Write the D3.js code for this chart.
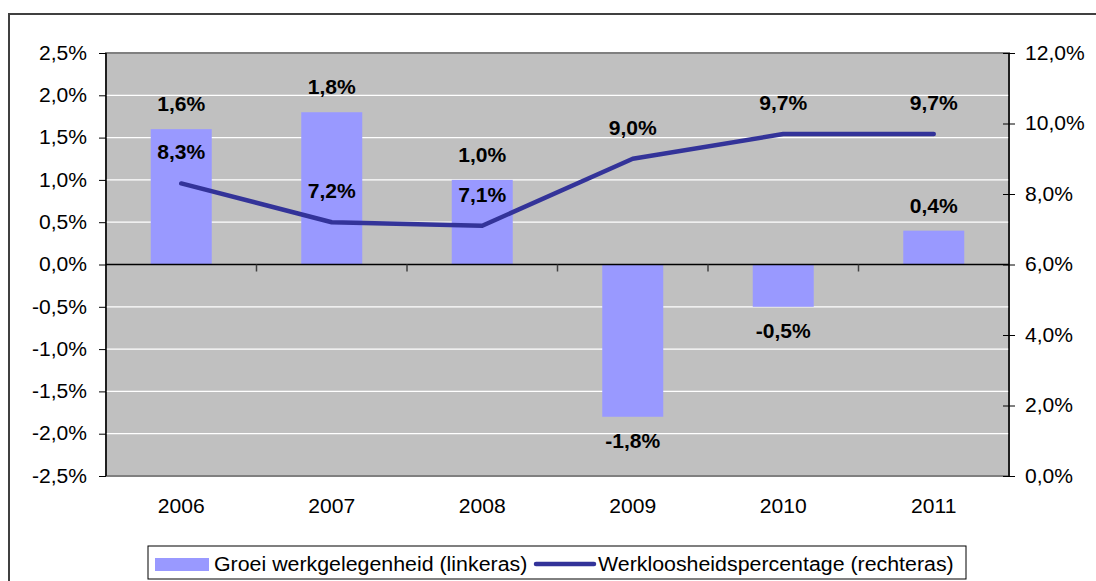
<!DOCTYPE html>
<html><head><meta charset="utf-8">
<script src="https://cdn.jsdelivr.net/npm/d3@7"></script>
<style>body{margin:0;background:#fff;}svg{display:block;font-family:"Liberation Sans",Arial,sans-serif;}</style>
</head><body>
<svg id="c" width="1096" height="581"></svg>
<script>
const years = ["2006","2007","2008","2009","2010","2011"];
const growth = [1.6, 1.8, 1.0, -1.8, -0.5, 0.4];
const unemployment = [8.3, 7.2, 7.1, 9.0, 9.7, 9.7];
const leftTicks = [-2.5,-2.0,-1.5,-1.0,-0.5,0,0.5,1.0,1.5,2.0,2.5];
const rightTicks = [0,2,4,6,8,10,12];
const seriesNames = ["Groei werkgelegenheid (linkeras)","Werkloosheidspercentage (rechteras)"];

const svg = d3.select("#c");
const L = 106, R = 1009, T = 53, B = 476;
const FS = 19.5;
const FF = "'Liberation Sans',Arial,sans-serif";
const fmtL = d => d3.format(".1f")(d).replace(".", ",").replace("\u2212","-") + "%";

svg.append("rect").attr("x",9).attr("y",14).attr("width",1100).attr("height",600)
  .attr("fill","#fff").attr("stroke","#404040").attr("stroke-width",2);

const xb = d3.scaleBand().domain(years).range([L,R]);
const yL = d3.scaleLinear().domain([-2.5,2.5]).range([B,T]);
const yR = d3.scaleLinear().domain([0,12]).range([B,T]);

svg.append("rect").attr("x",L).attr("y",T).attr("width",R-L).attr("height",B-T)
  .attr("fill","#C0C0C0").attr("stroke","#808080").attr("stroke-width",2);

svg.append("g").selectAll("line").data(leftTicks.filter(d=>d!==2.5 && d!==-2.5 && d!==0)).join("line")
  .attr("x1",L).attr("x2",R).attr("y1",d=>yL(d)).attr("y2",d=>yL(d))
  .attr("stroke","#fff").attr("stroke-width",1.2);

// bars
const bw = 61;
svg.append("g").selectAll("rect").data(growth).join("rect")
  .attr("x",(d,i)=>xb(years[i])+xb.bandwidth()/2-bw/2)
  .attr("width",bw)
  .attr("y",d=>Math.min(yL(d),yL(0)))
  .attr("height",d=>Math.abs(yL(d)-yL(0)))
  .attr("fill","#9999FF");

// left axis
const gl = svg.append("g").attr("transform",`translate(${L},0)`)
  .call(d3.axisLeft(yL).tickValues(leftTicks).tickFormat(fmtL).tickSize(7).tickPadding(12));
gl.select(".domain").attr("stroke","#000").attr("stroke-width",1.5).attr("d",`M0,${T}V${B}`);
gl.selectAll(".tick line").attr("stroke","#000");
gl.selectAll("text").attr("font-size",FS).attr("fill","#000").attr("font-family",FF);

// right axis
const gr = svg.append("g").attr("transform",`translate(${R},0)`)
  .call(d3.axisRight(yR).tickValues(rightTicks).tickFormat(fmtL).tickSize(6).tickPadding(10));
gr.select(".domain").attr("stroke","#000").attr("stroke-width",1.5).attr("d",`M0,${T}V${B}`);
gr.selectAll(".tick line").attr("stroke","#000").attr("x1",-6);
gr.selectAll("text").attr("font-size",FS).attr("fill","#000").attr("font-family",FF);

// zero line with category ticks
svg.append("line").attr("x1",L).attr("x2",R).attr("y1",yL(0)).attr("y2",yL(0))
  .attr("stroke","#000").attr("stroke-width",1.5);
svg.append("g").selectAll("line").data(years.slice(1)).join("line")
  .attr("x1",d=>xb(d)).attr("x2",d=>xb(d)).attr("y1",yL(0)).attr("y2",yL(0)+7)
  .attr("stroke","#404040").attr("stroke-width",1.5);

// x labels
svg.append("g").selectAll("text").data(years).join("text")
  .attr("x",d=>xb(d)+xb.bandwidth()/2).attr("y",B+37)
  .attr("text-anchor","middle").attr("font-size",FS).attr("fill","#000").text(d=>d);

// line
const line = d3.line().x((d,i)=>xb(years[i])+xb.bandwidth()/2).y(d=>yR(d));
svg.append("path").datum(unemployment).attr("d",line)
  .attr("fill","none").attr("stroke","#333399").attr("stroke-width",4.5)
  .attr("stroke-linejoin","round").attr("stroke-linecap","round");

// bar labels
svg.append("g").selectAll("text").data(growth).join("text")
  .attr("x",(d,i)=>xb(years[i])+xb.bandwidth()/2)
  .attr("y",d=>d>=0 ? yL(d)-18 : yL(d)+31)
  .attr("text-anchor","middle").attr("font-size",FS).attr("font-weight","bold").attr("fill","#000")
  .text(fmtL);

// line labels
svg.append("g").selectAll("text").data(unemployment).join("text")
  .attr("x",(d,i)=>xb(years[i])+xb.bandwidth()/2)
  .attr("y",d=>yR(d)-24)
  .attr("text-anchor","middle").attr("font-size",FS).attr("font-weight","bold").attr("fill","#000")
  .text(fmtL);

// horizontal stretch of chart text to match the reference's wider glyphs
svg.selectAll("text").each(function(){
  const len = this.getComputedTextLength();
  this.setAttribute("textLength", (len*1.08).toFixed(1));
  this.setAttribute("lengthAdjust","spacingAndGlyphs");
});

// legend
const lg = svg.append("g");
lg.append("rect").attr("x",148).attr("y",546).attr("width",818).attr("height",33)
  .attr("fill","#fff").attr("stroke","#000").attr("stroke-width",1);
lg.append("rect").attr("x",155).attr("y",558).attr("width",54).attr("height",13).attr("fill","#9999FF");
lg.append("text").attr("x",214).attr("y",571).attr("font-size",FS).attr("fill","#000").text(seriesNames[0]);
lg.append("line").attr("x1",536).attr("x2",594).attr("y1",564).attr("y2",564)
  .attr("stroke","#333399").attr("stroke-width",4.5).attr("stroke-linecap","round");
lg.append("text").attr("x",598).attr("y",571).attr("font-size",FS).attr("fill","#000").text(seriesNames[1]);
lg.selectAll("text").each(function(){
  const len = this.getComputedTextLength();
  this.setAttribute("textLength", (len*1.095).toFixed(1));
  this.setAttribute("lengthAdjust","spacingAndGlyphs");
});
</script>
</body></html>
